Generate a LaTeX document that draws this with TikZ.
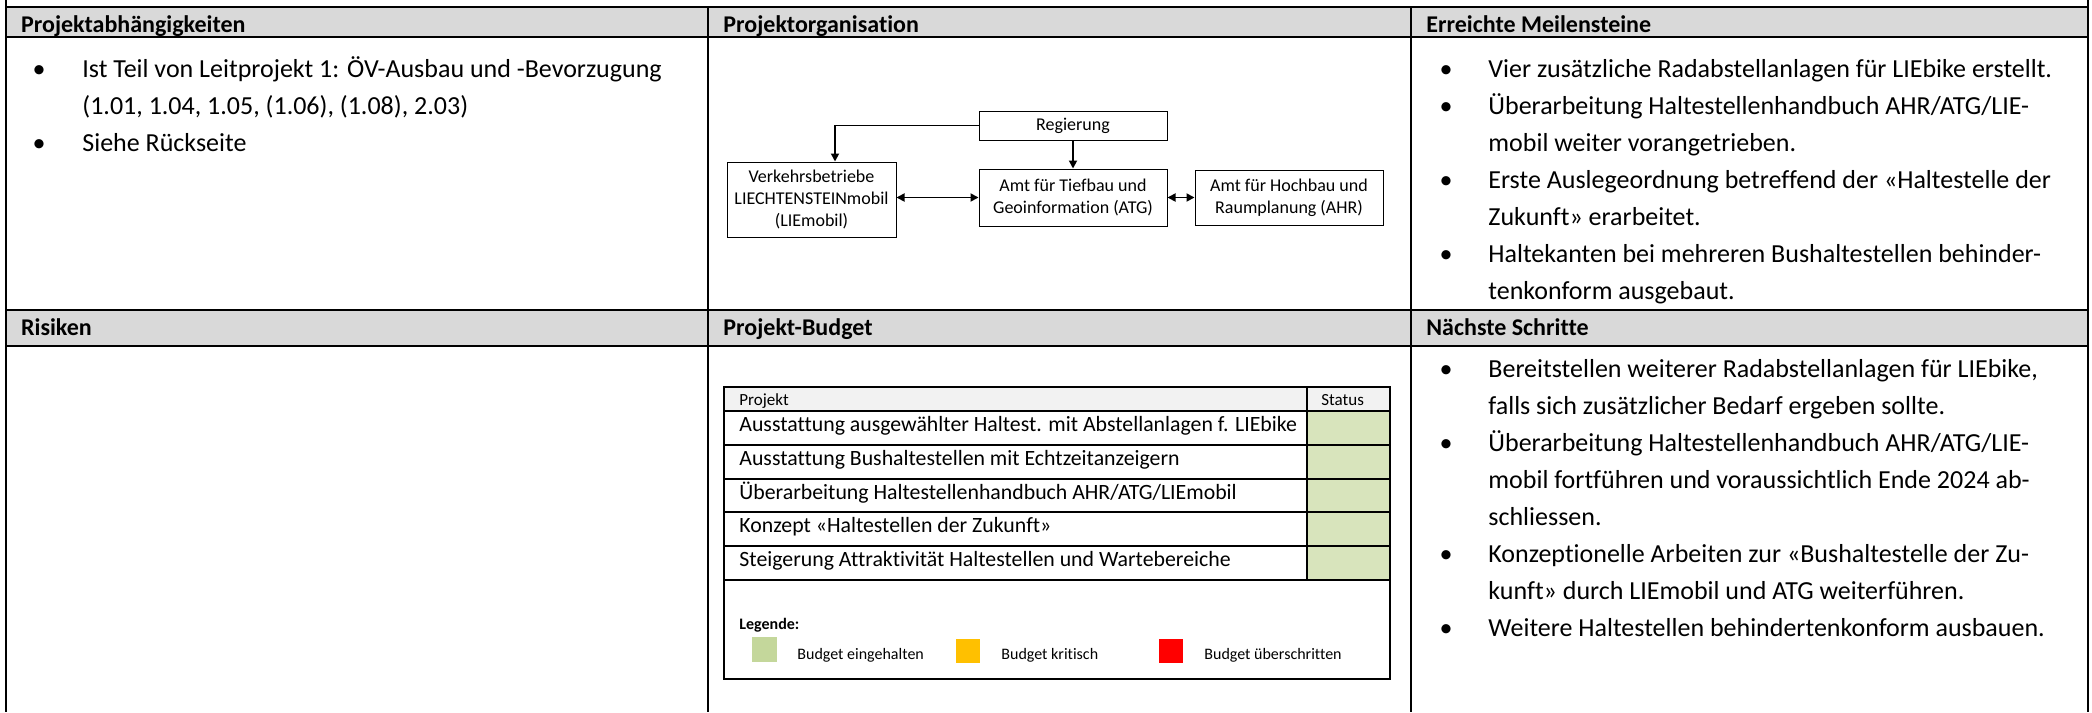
\documentclass[tikz,border=0pt]{standalone}
\usepackage{fontspec}
\setmainfont{Carlito}[Ligatures=NoCommon]
\usetikzlibrary{arrows.meta,calc}
\definecolor{hdrgray}{HTML}{D9D9D9}
\definecolor{thgray}{HTML}{F2F2F2}
\definecolor{stgreen}{HTML}{D8E4BC}
\definecolor{lggreen}{HTML}{C4D79B}
\definecolor{lgorange}{HTML}{FFC000}
\definecolor{lgred}{HTML}{FF0000}
\begin{document}
\begin{tikzpicture}[x=0.5pt,y=-0.5pt,
  grid/.style={line width=0.85pt,black},
  hdr/.style={anchor=base west,inner sep=0pt,font=\bfseries\fontsize{12}{14}\selectfont},
  txt/.style={anchor=base west,inner sep=0pt,font=\fontsize{13}{15}\selectfont},
  bul/.style={anchor=base,inner sep=0pt,font=\fontsize{13}{15}\selectfont},
  orgbox/.style={draw,line width=0.5pt,align=center,inner sep=0pt,font=\fontsize{9}{11}\selectfont},
  conn/.style={line width=0.9pt,-{Triangle[length=4pt,width=4pt]}},
  dconn/.style={line width=0.9pt,{Triangle[length=4pt,width=4pt]}-{Triangle[length=4pt,width=4pt]}},
  th/.style={anchor=base west,inner sep=0pt,font=\fontsize{8.5}{10}\selectfont},
  td/.style={anchor=base west,inner sep=0pt,font=\fontsize{10.9}{12}\selectfont},
  lgt/.style={anchor=base west,inner sep=0pt,font=\fontsize{8}{10}\selectfont},
  lgb/.style={anchor=base west,inner sep=0pt,font=\bfseries\fontsize{8}{10}\selectfont},
  sq/.style={inner sep=0pt,minimum size=12.25pt}]
\useasboundingbox (0,0) rectangle (2092,712);
% header fills
\fill[hdrgray] (5.7,6.7) rectangle (2088,37.3);
\fill[hdrgray] (5.7,310) rectangle (2088,345.7);
% grid
\draw[grid] (5.7,0) -- (5.7,712);
\draw[grid] (2088,0) -- (2088,712);
\draw[grid] (708,6.7) -- (708,712);
\draw[grid] (1411,6.7) -- (1411,712);
\draw[grid] (5.7,6.7) -- (2088,6.7);
\draw[grid] (5.7,37.3) -- (2088,37.3);
\draw[grid] (5.7,310) -- (2088,310);
\draw[grid] (5.7,345.7) -- (2088,345.7);
% headers
\node[hdr] (h1) at (20.7,32.3) {Projektabhängigkeiten};
\node[hdr] (h2) at (723,32.3) {Projektorganisation};
\node[hdr] (h3) at (1426,32.3) {Erreichte Meilensteine};
\node[hdr] (h4) at (20.7,335.7) {Risiken};
\node[hdr] (h5) at (723,335.7) {Projekt-Budget};
\node[hdr] (h6) at (1426,335.7) {Nächste Schritte};
% column 1
\node[bul] (a1b) at (39,77) {•};
\node[txt] (a1) at (82,77) {Ist Teil von Leitprojekt 1: ÖV-Ausbau und -Bevorzugung};
\node[txt] (a2) at (82,114) {(1.01, 1.04, 1.05, (1.06), (1.08), 2.03)};
\node[bul] (a3b) at (39,151) {•};
\node[txt] (a3) at (82,151) {Siehe Rückseite};
% column 3 row 1
\node[bul] (m1b) at (1446,77) {•};
\node[txt] (m1) at (1488,77) {Vier zusätzliche Radabstellanlagen für LIEbike erstellt.};
\node[bul] (m2b) at (1446,114) {•};
\node[txt] (m2) at (1488,114) {Überarbeitung Haltestellenhandbuch AHR/ATG/LIE-};
\node[txt] (m3) at (1488,151) {mobil weiter vorangetrieben.};
\node[bul] (m4b) at (1446,188) {•};
\node[txt] (m4) at (1488,188) {Erste Auslegeordnung betreffend der «Haltestelle der};
\node[txt] (m5) at (1488,225) {Zukunft» erarbeitet.};
\node[bul] (m6b) at (1446,262) {•};
\node[txt] (m6) at (1488,262) {Haltekanten bei mehreren Bushaltestellen behinder-};
\node[txt] (m7) at (1488,299) {tenkonform ausgebaut.};
% column 3 row 2
\node[bul] (n1b) at (1446,377.5) {•};
\node[txt] (n1) at (1488,377.5) {Bereitstellen weiterer Radabstellanlagen für LIEbike,};
\node[txt] (n2) at (1488,414.5) {falls sich zusätzlicher Bedarf ergeben sollte.};
\node[bul] (n3b) at (1446,451.5) {•};
\node[txt] (n3) at (1488,451.5) {Überarbeitung Haltestellenhandbuch AHR/ATG/LIE-};
\node[txt] (n4) at (1488,488.5) {mobil fortführen und voraussichtlich Ende 2024 ab-};
\node[txt] (n5) at (1488,525.5) {schliessen.};
\node[bul] (n6b) at (1446,562.5) {•};
\node[txt] (n6) at (1488,562.5) {Konzeptionelle Arbeiten zur «Bushaltestelle der Zu-};
\node[txt] (n7) at (1488,599.5) {kunft» durch LIEmobil und ATG weiterführen.};
\node[bul] (n8b) at (1446,636.5) {•};
\node[txt] (n8) at (1488,636.5) {Weitere Haltestellen behindertenkonform ausbauen.};
% organisation chart
\node[orgbox,minimum width=94pt,minimum height=14.5pt] (reg) at (1073,125.5) {Regierung};
\node[orgbox,minimum width=84.5pt,minimum height=37.5pt] (verk) at (811.5,199.5) {Verkehrsbetriebe\\LIECHTENSTEINmobil\\(LIEmobil)};
\node[orgbox,minimum width=94pt,minimum height=28.5pt] (tief) at (1073,197.5) {Amt für Tiefbau und\\Geoinformation (ATG)};
\node[orgbox,minimum width=94pt,minimum height=27.5pt] (hoch) at (1289,197.5) {Amt für Hochbau und\\Raumplanung (AHR)};
\draw[conn] (reg.west) -| ([xshift=11.75pt]verk.north);
\draw[conn] (reg.south) -- (tief.north);
\draw[dconn] (tief.west -| verk.east) -- (tief.west);
\draw[dconn] (tief.east) -- (hoch.west);
% budget table
\fill[thgray] (723.6,387) rectangle (1390,411);
\fill[stgreen] (1307,411) rectangle (1390,580);
\draw[line width=1pt] (723.6,387) rectangle (1390,679);
\foreach \yy in {411,445,479,512,546,580}
  \draw[line width=1pt] (723.6,\yy) -- (1390,\yy);
\draw[line width=1pt] (1307,387) -- (1307,580);
\node[th] (tp) at (739,405) {Projekt};
\node[th] (ts) at (1321,405) {Status};
\node[td] (r1) at (739,431) {Ausstattung ausgewählter Haltest. mit Abstellanlagen f. LIEbike};
\node[td] (r2) at (739,465) {Ausstattung Bushaltestellen mit Echtzeitanzeigern};
\node[td] (r3) at (739,499) {Überarbeitung Haltestellenhandbuch AHR/ATG/LIEmobil};
\node[td] (r4) at (739,532) {Konzept «Haltestellen der Zukunft»};
\node[td] (r5) at (739,566) {Steigerung Attraktivität Haltestellen und Wartebereiche};
\node[lgb] (lg) at (739,629) {Legende:};
\node[sq,fill=lggreen] (sqg) at (764.5,649.5) {};
\node[sq,fill=lgorange] (sqo) at (968,651) {};
\node[sq,fill=lgred] (sqr) at (1171,651) {};
\node[lgt] (lt1) at (797,659) {Budget eingehalten};
\node[lgt] (lt2) at (1001,659) {Budget kritisch};
\node[lgt] (lt3) at (1204,659) {Budget überschritten};
\end{tikzpicture}
\end{document}
